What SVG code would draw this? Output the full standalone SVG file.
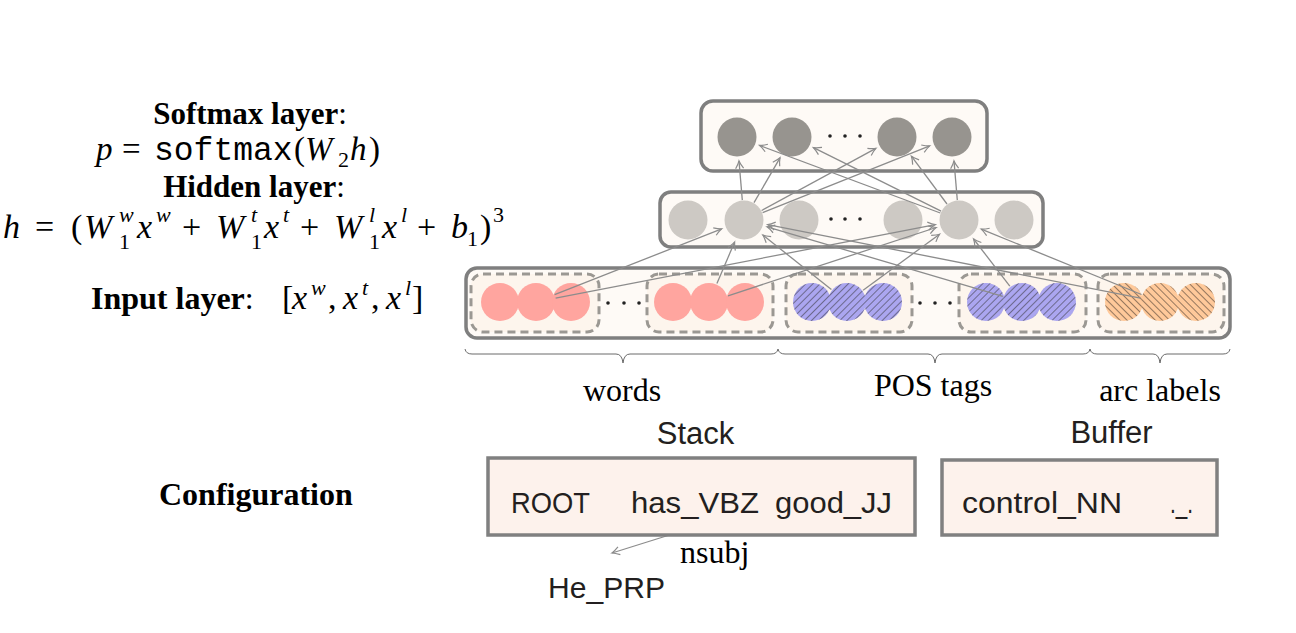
<svg xmlns="http://www.w3.org/2000/svg" width="1296" height="633" viewBox="0 0 1296 633">
<defs>
<style>
.serif{font-family:"Liberation Serif","Times New Roman",serif;fill:#000}
.bold{font-weight:bold}
.it{font-style:italic}
.sans{font-family:"Liberation Sans",Arial,sans-serif;fill:#231f20}
.mono{font-family:"Liberation Mono","Courier New",monospace}
.layer{fill:#fefaf6;stroke:#7f7f7f;stroke-width:3.5}
.grp{fill:#fdf5ed;stroke:#9b9893;stroke-width:3;stroke-dasharray:8 5}
.sm{fill:#97948f}
.hd{fill:#cdc9c4}
.pk{fill:#ffa59f}
.bl{fill:#aba6f0}
.or{fill:#ffc99a}
.dot{fill:#222}
.cfg{fill:#fdf2ec;stroke:#808080;stroke-width:3.5}
.conn line{stroke:#8c8c8c;stroke-width:1.3;marker-end:url(#ah)}
.brace{fill:none;stroke:#6a6a6a;stroke-width:1}
</style>
<marker id="ah" markerWidth="12" markerHeight="12" refX="10" refY="6" orient="auto" markerUnits="userSpaceOnUse">
<path d="M2.5,2 Q7,5 10,6 Q7,7 2.5,10" fill="none" stroke="#8c8c8c" stroke-width="1.2"/>
</marker>
<pattern id="hatchB" patternUnits="userSpaceOnUse" width="5" height="5" patternTransform="rotate(45)">
<line x1="0" y1="0" x2="0" y2="5" stroke="#4a4858" stroke-width="1.3"/>
</pattern>
<pattern id="hatchO" patternUnits="userSpaceOnUse" width="5" height="5" patternTransform="rotate(-45)">
<line x1="0" y1="0" x2="0" y2="5" stroke="#5a4a3c" stroke-width="1.3"/>
</pattern>
</defs>
<rect width="1296" height="633" fill="#fff"/>

<!-- left labels -->
<g id="labels-left">
<text class="serif bold" x="250" y="124" text-anchor="middle" font-size="31">Softmax layer<tspan font-weight="normal">:</tspan></text>
<g id="eq-softmax" class="serif" font-size="33">
<text x="96" y="160" class="it">p</text>
<text x="122" y="160">=</text>
<text x="154" y="160" class="mono" font-size="33">softmax</text>
<text x="294" y="160">(</text>
<text x="305" y="160" class="it">W</text>
<text x="338" y="167" font-size="22">2</text>
<text x="350" y="160" class="it">h</text>
<text x="369" y="160">)</text>
</g>
<text class="serif bold" x="254" y="197" text-anchor="middle" font-size="31">Hidden layer<tspan font-weight="normal">:</tspan></text>
<g id="eq-hidden" class="serif" font-size="34">
<text x="3" y="238" class="it">h</text>
<text x="35" y="238">=</text>
<text x="71" y="238">(</text>
<text x="84" y="238" class="it">W</text>
<text x="119" y="222" font-size="22" class="it">w</text>
<text x="119" y="249" font-size="22">1</text>
<text x="137" y="238" class="it">x</text>
<text x="156" y="222" font-size="22" class="it">w</text>
<text x="182" y="238">+</text>
<text x="216" y="238" class="it">W</text>
<text x="251" y="222" font-size="22" class="it">t</text>
<text x="251" y="249" font-size="22">1</text>
<text x="264" y="238" class="it">x</text>
<text x="283" y="222" font-size="22" class="it">t</text>
<text x="300" y="238">+</text>
<text x="334" y="238" class="it">W</text>
<text x="369" y="222" font-size="22" class="it">l</text>
<text x="369" y="249" font-size="22">1</text>
<text x="382" y="238" class="it">x</text>
<text x="401" y="222" font-size="22" class="it">l</text>
<text x="417" y="238">+</text>
<text x="451" y="238" class="it">b</text>
<text x="467" y="246" font-size="22">1</text>
<text x="480" y="238">)</text>
<text x="493" y="222" font-size="22">3</text>
</g>
<text class="serif bold" x="91" y="309" font-size="32">Input layer<tspan font-weight="normal">:</tspan></text>
<g id="eq-input" class="serif" font-size="34">
<text x="282" y="309">[</text>
<text x="292" y="309" class="it">x</text>
<text x="311" y="295" font-size="22" class="it">w</text>
<text x="328" y="309">,</text>
<text x="343" y="309" class="it">x</text>
<text x="362" y="295" font-size="22" class="it">t</text>
<text x="371" y="309">,</text>
<text x="386" y="309" class="it">x</text>
<text x="405" y="295" font-size="22" class="it">l</text>
<text x="412" y="309">]</text>
</g>
<text class="serif bold" x="159" y="505" font-size="32">Configuration</text>
</g>

<!-- layer boxes -->
<g id="softmax-layer">
<rect class="layer" x="701" y="101" width="286" height="70" rx="12"/>
<circle class="sm" cx="737" cy="137" r="19.5"/>
<circle class="sm" cx="792" cy="137" r="19.5"/>
<circle class="sm" cx="897" cy="137" r="19.5"/>
<circle class="sm" cx="952" cy="137" r="19.5"/>
<circle class="dot" cx="830" cy="136" r="1.8"/>
<circle class="dot" cx="845" cy="136" r="1.8"/>
<circle class="dot" cx="860" cy="136" r="1.8"/>
</g>
<g id="hidden-layer">
<rect class="layer" x="660" y="192" width="383" height="55" rx="11"/>
<circle class="hd" cx="688" cy="220" r="19.5"/>
<circle class="hd" cx="744" cy="220" r="19.5"/>
<circle class="hd" cx="799" cy="220" r="19.5"/>
<circle class="hd" cx="903" cy="220" r="19.5"/>
<circle class="hd" cx="959" cy="220" r="19.5"/>
<circle class="hd" cx="1014" cy="220" r="19.5"/>
<circle class="dot" cx="831" cy="219" r="1.8"/>
<circle class="dot" cx="845" cy="219" r="1.8"/>
<circle class="dot" cx="860" cy="219" r="1.8"/>
</g>
<g id="input-layer">
<rect class="layer" x="466" y="268" width="764" height="70" rx="11"/>
<g id="grp-words-1">
<rect class="grp" x="471" y="274" width="128" height="58" rx="12"/>
<circle class="pk" cx="500" cy="302" r="19"/>
<circle class="pk" cx="536" cy="302" r="19"/>
<circle class="pk" cx="571" cy="302" r="19"/>
</g>
<circle class="dot" cx="608" cy="303" r="1.8"/>
<circle class="dot" cx="624" cy="303" r="1.8"/>
<circle class="dot" cx="639" cy="303" r="1.8"/>
<g id="grp-words-2">
<rect class="grp" x="647" y="274" width="126" height="58" rx="12"/>
<circle class="pk" cx="673" cy="302" r="19"/>
<circle class="pk" cx="709" cy="302" r="19"/>
<circle class="pk" cx="745" cy="302" r="19"/>
</g>
<g id="grp-pos-1">
<rect class="grp" x="786" y="274" width="126" height="58" rx="12"/>
<circle class="bl" cx="812" cy="302" r="19"/><circle cx="812" cy="302" r="19" fill="url(#hatchB)"/>
<circle class="bl" cx="847" cy="302" r="19"/><circle cx="847" cy="302" r="19" fill="url(#hatchB)"/>
<circle class="bl" cx="883" cy="302" r="19"/><circle cx="883" cy="302" r="19" fill="url(#hatchB)"/>
</g>
<circle class="dot" cx="920" cy="303" r="1.8"/>
<circle class="dot" cx="935" cy="303" r="1.8"/>
<circle class="dot" cx="950" cy="303" r="1.8"/>
<g id="grp-pos-2">
<rect class="grp" x="959" y="274" width="127" height="58" rx="12"/>
<circle class="bl" cx="986" cy="302" r="19"/><circle cx="986" cy="302" r="19" fill="url(#hatchB)"/>
<circle class="bl" cx="1022" cy="302" r="19"/><circle cx="1022" cy="302" r="19" fill="url(#hatchB)"/>
<circle class="bl" cx="1057" cy="302" r="19"/><circle cx="1057" cy="302" r="19" fill="url(#hatchB)"/>
</g>
<g id="grp-arc">
<rect class="grp" x="1098" y="274" width="126" height="58" rx="12"/>
<circle class="or" cx="1124" cy="302" r="19"/><circle cx="1124" cy="302" r="19" fill="url(#hatchO)"/>
<circle class="or" cx="1160" cy="302" r="19"/><circle cx="1160" cy="302" r="19" fill="url(#hatchO)"/>
<circle class="or" cx="1196" cy="302" r="19"/><circle cx="1196" cy="302" r="19" fill="url(#hatchO)"/>
</g>
</g>

<!-- connectors -->
<g id="connectors" class="conn">
<line x1="742.3" y1="200.1" x2="739.0" y2="160.9"/>
<line x1="754.0" y1="202.7" x2="780.0" y2="157.8"/>
<line x1="761.6" y1="210.5" x2="875.9" y2="148.4"/>
<line x1="762.6" y1="212.6" x2="929.7" y2="145.9"/>
<line x1="940.3" y1="213.0" x2="759.5" y2="145.4"/>
<line x1="941.1" y1="211.1" x2="813.5" y2="147.7"/>
<line x1="947.0" y1="204.0" x2="911.4" y2="156.2"/>
<line x1="957.3" y1="200.1" x2="954.0" y2="160.9"/>
<line x1="554.6" y1="294.7" x2="721.7" y2="228.8"/>
<line x1="555.6" y1="298.2" x2="935.4" y2="224.6"/>
<line x1="716.9" y1="283.6" x2="734.6" y2="242.1"/>
<line x1="728.0" y1="295.8" x2="936.2" y2="227.5"/>
<line x1="831.4" y1="289.5" x2="762.8" y2="235.0"/>
<line x1="863.1" y1="290.2" x2="939.6" y2="234.2"/>
<line x1="1002.8" y1="296.3" x2="767.0" y2="226.8"/>
<line x1="1009.8" y1="286.1" x2="973.6" y2="239.0"/>
<line x1="1140.4" y1="298.1" x2="767.6" y2="224.6"/>
<line x1="1141.5" y1="294.5" x2="981.2" y2="229.1"/>
<line x1="695" y1="527" x2="612" y2="553"/>
</g>

<!-- braces -->
<g id="braces">
<path class="brace" d="M465,349 Q466,354 472,354 L616,354 Q622,354 623,363 Q624,354 630,354 L771,354 Q777,354 778,349"/>
<path class="brace" d="M778,349 Q779,354 785,354 L928,354 Q934,354 935,363 Q936,354 942,354 L1083,354 Q1089,354 1090,349"/>
<path class="brace" d="M1090,349 Q1091,354 1097,354 L1153,354 Q1159,354 1160,363 Q1161,354 1167,354 L1223,354 Q1229,354 1230,349"/>
<text class="serif" x="622" y="401" text-anchor="middle" font-size="32">words</text>
<text class="serif" x="933" y="396" text-anchor="middle" font-size="32">POS tags</text>
<text class="serif" x="1160" y="401" text-anchor="middle" font-size="32">arc labels</text>
</g>

<!-- configuration -->
<g id="stack">
<text class="sans" x="695.5" y="444" text-anchor="middle" font-size="31">Stack</text>
<rect class="cfg" x="488" y="458" width="427" height="77"/>
<text class="sans" x="511" y="513" font-size="30" textLength="79" lengthAdjust="spacingAndGlyphs">ROOT</text>
<text class="sans" x="631" y="513" font-size="30" textLength="128" lengthAdjust="spacingAndGlyphs">has_VBZ</text>
<text class="sans" x="775" y="513" font-size="30" textLength="117" lengthAdjust="spacingAndGlyphs">good_JJ</text>
</g>
<g id="buffer">
<text class="sans" x="1111.5" y="443" text-anchor="middle" font-size="31">Buffer</text>
<rect class="cfg" x="942" y="460" width="275" height="75"/>
<text class="sans" x="962" y="513" font-size="30" textLength="160" lengthAdjust="spacingAndGlyphs">control_NN</text>
<text class="sans" x="1170" y="513" font-size="30" textLength="23" lengthAdjust="spacingAndGlyphs">._.</text>
</g>
<g id="arc">
<text class="serif" x="680" y="563" font-size="32">nsubj</text>
<text class="sans" x="548" y="598" font-size="30" textLength="117" lengthAdjust="spacingAndGlyphs">He_PRP</text>
</g>
</svg>
